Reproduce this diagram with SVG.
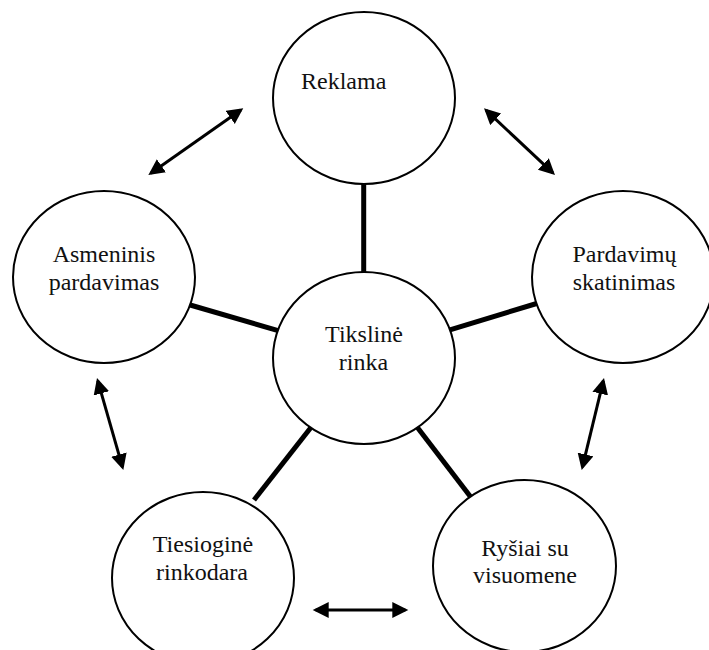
<svg xmlns="http://www.w3.org/2000/svg" width="709" height="650" viewBox="0 0 709 650">
  <style>
    .node { fill: #fff; stroke: #000; stroke-width: 2; }
    .label { font-family: "Liberation Serif", "Times New Roman", serif; font-size: 24px; fill: #111; }
    .mid { text-anchor: middle; }
    .spoke { stroke: #000; stroke-width: 5; fill: none; }
    .link { stroke: #000; stroke-width: 3; fill: none; marker-start: url(#head); marker-end: url(#head); }
  </style>
  <defs>
    <marker id="head" markerUnits="userSpaceOnUse" markerWidth="17" markerHeight="17" refX="13" refY="8" orient="auto-start-reverse" viewBox="0 0 17 17">
      <path d="M0,0 L16,8 L0,16 Z" fill="#000"/>
    </marker>
  </defs>
  <rect width="709" height="650" fill="#fff"/>

  <!-- spokes run under the white-filled nodes; links are two-way arrows -->
  <g id="connectors">
    <line class="spoke" x1="363.7" y1="178" x2="363.7" y2="280"/>
    <line class="spoke" x1="185" y1="303.5" x2="285" y2="332.6"/>
    <line class="spoke" x1="445" y1="331.4" x2="540" y2="302.5"/>
    <line class="spoke" x1="254" y1="500" x2="316" y2="421"/>
    <line class="spoke" x1="414" y1="423" x2="473" y2="500"/>

    <line class="link" x1="150.8" y1="173.3" x2="240.8" y2="110"/>
    <line class="link" x1="486.2" y1="110.4" x2="552.8" y2="172.9"/>
    <line class="link" x1="97.8" y1="380.9" x2="122.5" y2="467.1"/>
    <line class="link" x1="603.3" y1="380.9" x2="582.4" y2="467.1"/>
    <line class="link" x1="315.7" y1="610" x2="405.3" y2="610"/>
  </g>

  <g id="reklama">
    <ellipse class="node" cx="364" cy="98" rx="91" ry="86"/>
    <text class="label" x="301" y="89">Reklama</text>
  </g>

  <g id="asmeninis-pardavimas">
    <ellipse class="node" cx="104" cy="277" rx="91" ry="86"/>
    <text class="label mid" x="104" y="262">Asmeninis</text>
    <text class="label mid" x="104" y="290">pardavimas</text>
  </g>

  <g id="pardavimu-skatinimas">
    <ellipse class="node" cx="623" cy="277" rx="91" ry="86"/>
    <text class="label mid" x="624.5" y="262">Pardavimų</text>
    <text class="label mid" x="624" y="290">skatinimas</text>
  </g>

  <g id="tiksline-rinka">
    <ellipse class="node" cx="364" cy="358" rx="91" ry="86"/>
    <text class="label mid" x="364" y="341.5">Tikslinė</text>
    <text class="label mid" x="363.5" y="370">rinka</text>
  </g>

  <g id="tiesiogine-rinkodara">
    <ellipse class="node" cx="203" cy="578" rx="91" ry="86"/>
    <text class="label mid" x="203" y="552">Tiesioginė</text>
    <text class="label mid" x="202" y="580">rinkodara</text>
  </g>

  <g id="rysiai-su-visuomene">
    <ellipse class="node" cx="524.5" cy="566" rx="91.5" ry="86"/>
    <text class="label mid" x="525" y="556">Ryšiai su</text>
    <text class="label mid" x="525" y="583">visuomene</text>
  </g>
</svg>
